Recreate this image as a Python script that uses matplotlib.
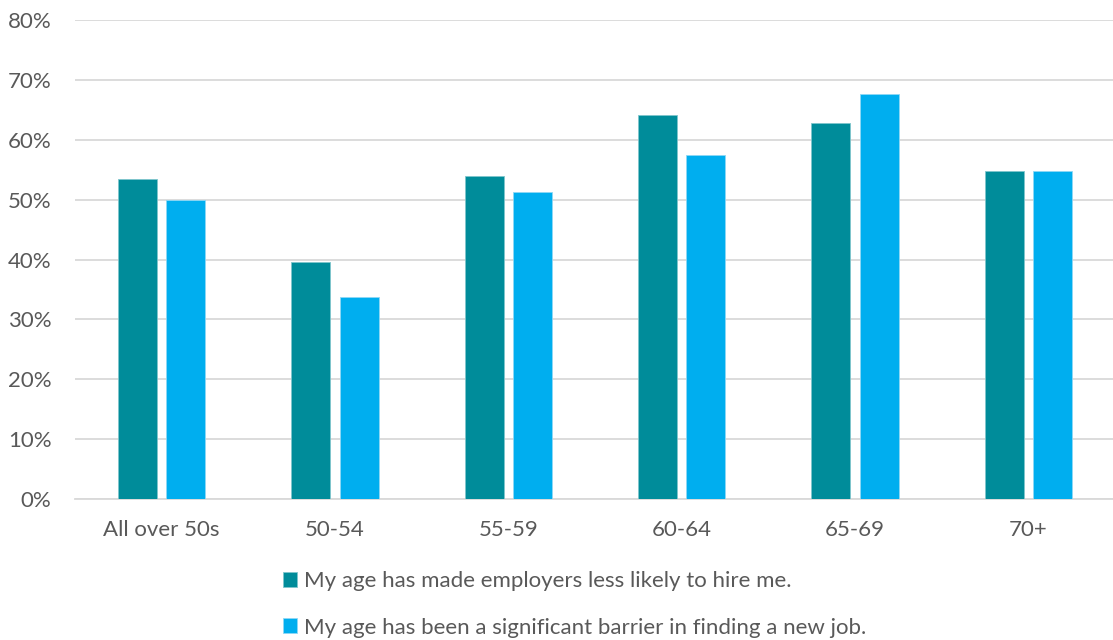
import matplotlib
matplotlib.use("Agg")
import matplotlib.pyplot as plt
import numpy as np
from matplotlib.ticker import FuncFormatter

categories = ["All over 50s", "50-54", "55-59", "60-64", "65-69", "70+"]
less_likely_to_hire = [53.5, 39.5, 54.0, 64.1, 62.8, 54.8]
barrier_new_job = [50.0, 33.7, 51.3, 57.4, 67.7, 54.8]
series_labels = [
    "My age has made employers less likely to hire me.",
    "My age has been a significant barrier in finding a new job.",
]
y_ticks = [0, 10, 20, 30, 40, 50, 60, 70, 80]

teal = "#008C9A"
blue = "#00AEEF"
text_col = "#595959"
grid_col = "#D9D9D9"

plt.rcParams["font.family"] = ["Lato", "DejaVu Sans"]

fig = plt.figure(figsize=(11.13, 6.4), dpi=100)
ax = fig.add_axes([75 / 1113, 1 - 499 / 640, 1040 / 1113, 479 / 640])

x = np.arange(len(categories))
w = 0.225
off = 0.14
ax.bar(x - off, less_likely_to_hire, width=w, color=teal, edgecolor="#7FC5CC",
       linewidth=0.6, label=series_labels[0], zorder=3)
ax.bar(x + off, barrier_new_job, width=w, color=blue, edgecolor="#8FD8F5",
       linewidth=0.6, label=series_labels[1], zorder=3)

ax.set_xlim(-0.5, len(categories) - 0.5)
ax.set_ylim(0, 80)
ax.set_yticks(y_ticks)
ax.yaxis.set_major_formatter(FuncFormatter(lambda v, p: f"{v:.0f}%"))
ax.set_xticks(x)
ax.set_xticklabels(categories)

ax.grid(axis="y", color=grid_col, linewidth=1.3, zorder=0)
ax.set_axisbelow(True)
for s in ["top", "right", "left"]:
    ax.spines[s].set_visible(False)
ax.spines["bottom"].set_color(grid_col)
ax.spines["bottom"].set_linewidth(1.3)
ax.tick_params(axis="both", length=0, labelsize=16, colors=text_col)
ax.tick_params(axis="x", pad=15)
ax.tick_params(axis="y", pad=17)

fig.legend(loc="upper left", bbox_to_anchor=(283 / 1113, 1 - 571 / 640),
           ncol=1, frameon=False, fontsize=16, labelcolor=text_col,
           handlelength=0.65, handleheight=0.65, handletextpad=0.3,
           labelspacing=1.2, borderpad=0, borderaxespad=0)

fig.savefig("out.png", dpi=100)
